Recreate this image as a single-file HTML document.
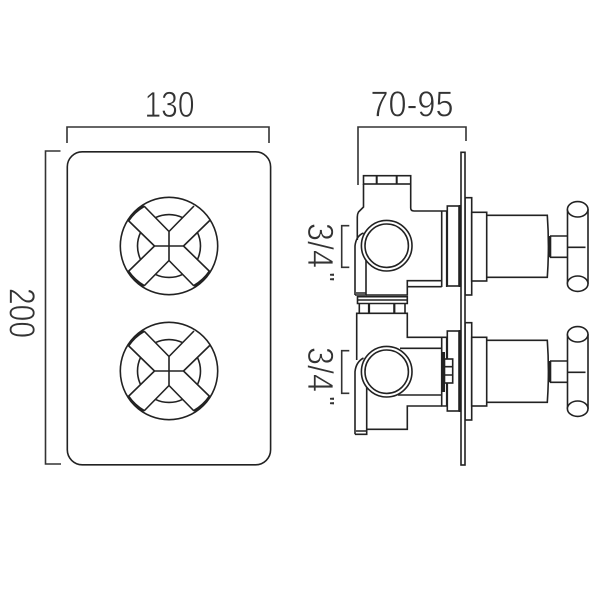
<!DOCTYPE html>
<html><head><meta charset="utf-8"><style>
html,body{margin:0;padding:0;background:#fff}
svg{display:block}
text{font-family:"Liberation Sans",sans-serif;font-size:36px;fill:#333;stroke:#fff;stroke-width:.7px}
text.q{font-size:18px;stroke:none}
</style></head><body>
<svg width="600" height="600" viewBox="0 0 600 600" xmlns="http://www.w3.org/2000/svg">
<defs>
<g id="knob" fill="none" stroke="#222" stroke-width="1.6">
<circle r="48.7"/>
<path d="M0-14.5L-25-40M0-14.5L25-40M0 14.5L-25 40M0 14.5L25 40M-14.5 0L-40.7-25.5M-14.5 0L-40.7 25.5M14.5 0L40.7-25.5M14.5 0L40.7 25.5M-14.5 0H14.5M0-14.5V14.5"/>
<path d="M-13.8-28.3A31.5 31.5 0 0 1 13.8-28.3M-13.8 28.3A31.5 31.5 0 0 0 13.8 28.3M-28.3-13.8A31.5 31.5 0 0 0-28.3 13.8M28.3-13.8A31.5 31.5 0 0 1 28.3 13.8"/>
<path stroke-width="2.6" d="M-25-40A47.5 47.5 0 0 0-40.7-25.5M25 40A47.5 47.5 0 0 0 40.7 25.5M-25 40A47.5 47.5 0 0 1-40.7 25.5"/>
</g>
<g id="handle" fill="none" stroke="#222" stroke-width="1.6">
<rect x="447.3" y="206" width="11.7" height="80" fill="#fff"/>
<rect x="465" y="197.7" width="6.7" height="97.3" fill="#fff"/>
<rect x="471.7" y="212.3" width="15" height="68.7" fill="#fff"/>
<path d="M486.7 215.3H547.3Q549.5 246 547.3 277.3H486.7"/>
<path d="M550 236H567.7M550 257.3H567.7"/>
<path d="M550 236V257.3" stroke-width="2.6"/>
<path d="M567.5 209.3V283.7M588 209.3V283.7M568 247.3H585.5"/>
<ellipse cx="577.7" cy="209.3" rx="10.3" ry="7.7" fill="#fff"/>
<ellipse cx="577.7" cy="283.7" rx="10.3" ry="7.7" fill="#fff"/>
<path d="M460 205V287" stroke-width="2.6"/>
</g>
</defs>

<text x="144.5" y="117" textLength="50" lengthAdjust="spacingAndGlyphs">130</text>
<text x="370.5" y="116.7" textLength="83" lengthAdjust="spacingAndGlyphs">70-95</text>
<text transform="translate(9.5 288) rotate(90)" textLength="50" lengthAdjust="spacingAndGlyphs">200</text>
<text transform="translate(308 223) rotate(90)" textLength="45" lengthAdjust="spacingAndGlyphs">3/4</text>
<text class="q" transform="translate(321 272.5) rotate(90)" textLength="9" lengthAdjust="spacingAndGlyphs">"</text>
<text transform="translate(308 347) rotate(90)" textLength="45" lengthAdjust="spacingAndGlyphs">3/4</text>
<text class="q" transform="translate(321 396.5) rotate(90)" textLength="9" lengthAdjust="spacingAndGlyphs">"</text>

<g fill="none" stroke="#333" stroke-width="1.6">
<path d="M67 143V127H269V143"/>
<path d="M60.5 151H45.5V464H61"/>
<rect x="67.3" y="151.8" width="203.3" height="313" rx="15" stroke="#222"/>
<path d="M358 185V127H466V141"/>
<path d="M349.3 225.7H341.7V267.3H349.3"/>
<path d="M349.3 350.7H341.7V393.3H349.3"/>
</g>

<use href="#knob" x="169" y="246"/>
<use href="#knob" x="169" y="371"/>

<g fill="none" stroke="#222" stroke-width="1.6">
<!-- top valve -->
<rect x="363.5" y="175.7" width="47.2" height="8.3"/>
<path d="M376.7 175.7V184M396.7 175.7V184" stroke-width="2"/>
<path d="M363.5 184V207L358.5 212Q357.3 214 357.3 217V240"/>
<path d="M410.7 184V208Q410.7 211 414 211H446.7"/>
<path d="M355 295V246Q356 236 363.5 233"/>
<path d="M366 238V295H355M356 293H366" />
<path d="M366 295H407.3V280.7H441.7M407.3 286.7H441.7"/>
<path d="M441.7 211V287M446.7 211V287"/>
<path d="M357.5 296.7H407.3V303.5H357.5Z"/>
<path d="M357.5 300H407.3"/>
<circle cx="386.7" cy="245.7" r="25.3" fill="#fff"/>
<circle cx="386.7" cy="245.7" r="21.7"/>

<!-- bottom valve -->
<path d="M359.3 304V313.3M405 304V313.3"/>
<path d="M369 304V313.3M394.3 304V313.3" stroke-width="2.2"/>
<path d="M356.7 360V313.3H407.3V337.3H446.7"/>
<path d="M355 434.3V371.7Q356 362 363.5 358"/>
<path d="M366.7 363V434.3H355M356 431H366.7"/>
<path d="M366.7 429.3H407.3V406H441.7"/>
<path d="M400 348.3H441.7M398 395H441.7"/>
<path d="M441.7 337.3V406H447.3M446.7 337.3V406"/>
<circle cx="386.7" cy="371.7" r="25.3" fill="#fff"/>
<circle cx="386.7" cy="371.7" r="21.7"/>
</g>

<use href="#handle"/>
<use href="#handle" y="125"/>

<g fill="none" stroke="#222" stroke-width="1.6">
<path d="M443.7 352V392" stroke-width="2.6"/>
<rect x="444.5" y="359" width="8.2" height="24" fill="#fff"/>
<path d="M444.5 366.7H452.7M444.5 375H452.7"/>
<rect x="461" y="152.3" width="4" height="312.7" fill="#fff" stroke-width="1.6"/>
</g>
</svg>
</body></html>
